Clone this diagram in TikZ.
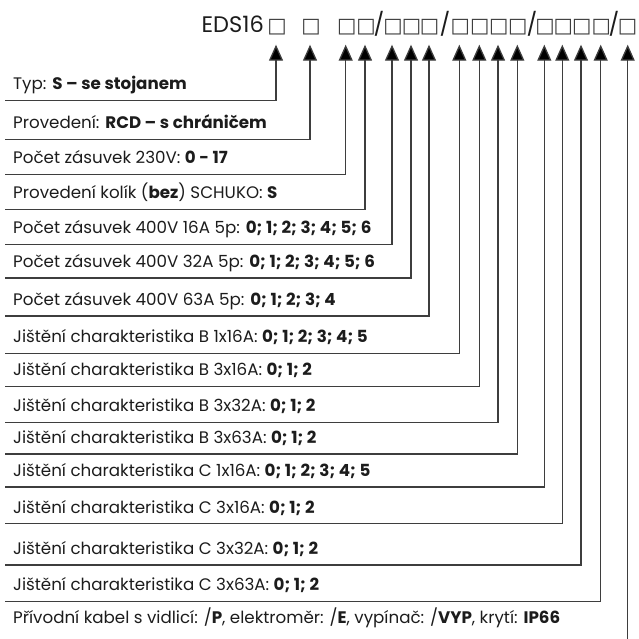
\documentclass[tikz,border=0pt]{standalone}
\usepackage{fontspec}
\setmainfont{Poppins}
\newfontfamily\boxfont{DejaVu Sans}
\usetikzlibrary{arrows.meta}
\usepackage{xcolor}
\definecolor{inkgray}{RGB}{28,28,28}
\definecolor{linegray}{RGB}{62,62,62}
\newcommand{\slotsq}{\makebox[12pt]{□}}

\begin{document}
\begin{tikzpicture}[
    x=1pt, y=-1pt,
    rowbox/.style={anchor=south west, inner xsep=8pt, inner ysep=0pt,
                   text height=11pt, text depth=10.5pt, text=inkgray,
                   font=\fontsize{16.7}{19}\selectfont},
    codetext/.style={anchor=base, inner sep=0pt, text=inkgray,
                     font=\fontsize{22.5}{26}\selectfont},
    slot/.style={anchor=base, inner sep=0pt, text=linegray,
                 font=\boxfont\fontsize{20.5}{24}\selectfont},
    link/.style={draw=linegray, line width=1.3pt,
                 -{Triangle[length=16pt, width=14pt, fill=black]},
                 shorten >=12pt}
]
\useasboundingbox (0,0) rectangle (638,639);

% Code
\node[codetext, anchor=base east] (code) at (264,32.7) {EDS16};
\node[slot] (sq1) at (277,32.7) {\slotsq};
\node[slot] (sq2) at (311,32.7) {\slotsq};
\node[slot] (sq3) at (346.7,32.7) {\slotsq};
\node[slot] (sq4) at (366,32.7) {\slotsq};
\node[codetext] (sl1) at (379,32.7) {/};
\node[slot] (sq5) at (393,32.7) {\slotsq};
\node[slot] (sq6) at (411.5,32.7) {\slotsq};
\node[slot] (sq7) at (429.5,32.7) {\slotsq};
\node[codetext] (sl2) at (445,32.7) {/};
\node[slot] (sq8) at (460.3,32.7) {\slotsq};
\node[slot] (sq9) at (479.7,32.7) {\slotsq};
\node[slot] (sq10) at (498.7,32.7) {\slotsq};
\node[slot] (sq11) at (517.8,32.7) {\slotsq};
\node[codetext] (sl3) at (532,32.7) {/};
\node[slot] (sq12) at (545,32.7) {\slotsq};
\node[slot] (sq13) at (563.3,32.7) {\slotsq};
\node[slot] (sq14) at (581.8,32.7) {\slotsq};
\node[slot] (sq15) at (601.2,32.7) {\slotsq};
\node[codetext] (sl4) at (614,32.7) {/};
\node[slot] (sq16) at (627.5,32.7) {\slotsq};

% Options
\node[rowbox] (typ) at (5,100.7) {Typ: \textbf{S – se stojanem}};
\node[rowbox] (proved) at (5,139.5) {Provedení: \textbf{RCD – s chráničem}};
\node[rowbox] (z230) at (5,174.3) {Počet zásuvek 230V: \textbf{0 - 17}};
\node[rowbox] (kolik) at (5,209.3) {Provedení kolík (\textbf{bez}) SCHUKO: \textbf{S}};
\node[rowbox] (z16) at (5,244.3) {Počet zásuvek 400V 16A 5p: \textbf{0; 1; 2; 3; 4; 5; 6}};
\node[rowbox] (z32) at (5,278) {Počet zásuvek 400V 32A 5p: \textbf{0; 1; 2; 3; 4; 5; 6}};
\node[rowbox] (z63) at (5,316) {Počet zásuvek 400V 63A 5p: \textbf{0; 1; 2; 3; 4}};
\node[rowbox] (b1x16) at (5,353.3) {Jištění charakteristika B 1x16A: \textbf{0; 1; 2; 3; 4; 5}};
\node[rowbox] (b3x16) at (5,386.5) {Jištění charakteristika B 3x16A: \textbf{0; 1; 2}};
\node[rowbox] (b3x32) at (5,422.3) {Jištění charakteristika B 3x32A: \textbf{0; 1; 2}};
\node[rowbox] (b3x63) at (5,454) {Jištění charakteristika B 3x63A: \textbf{0; 1; 2}};
\node[rowbox] (c1x16) at (5,487) {Jištění charakteristika C 1x16A: \textbf{0; 1; 2; 3; 4; 5}};
\node[rowbox] (c3x16) at (5,523.7) {Jištění charakteristika C 3x16A: \textbf{0; 1; 2}};
\node[rowbox] (c3x32) at (5,565) {Jištění charakteristika C 3x32A: \textbf{0; 1; 2}};
\node[rowbox] (c3x63) at (5,601.5) {Jištění charakteristika C 3x63A: \textbf{0; 1; 2}};
\node[rowbox] (kabel) at (5,634) {Přívodní kabel s vidlicí: /\textbf{P}, elektroměr: /\textbf{E}, vypínač: /\textbf{VYP}, krytí: \textbf{IP66}};
\coordinate (kabelend) at (627.7,639);

% Arrows
\draw[link] (typ.south west) -| ([xshift=-1pt]sq1.base);
\draw[link] (proved.south west) -| ([xshift=-1pt]sq2.base);
\draw[link] (z230.south west) -| ([xshift=-1pt]sq3.base);
\draw[link] (kolik.south west) -| ([xshift=-1pt]sq4.base);
\draw[link] (z16.south west) -| ([xshift=-1pt]sq5.base);
\draw[link] (z32.south west) -| ([xshift=-0.5pt]sq6.base);
\draw[link] (z63.south west) -| ([xshift=-0.5pt]sq7.base);
\draw[link] (b1x16.south west) -| ([xshift=-1pt]sq8.base);
\draw[link] (b3x16.south west) -| ([xshift=-0.4pt]sq9.base);
\draw[link] (b3x32.south west) -| ([xshift=-0.7pt]sq10.base);
\draw[link] (b3x63.south west) -| ([xshift=-0.5pt]sq11.base);
\draw[link] (c1x16.south west) -| ([xshift=-0.7pt]sq12.base);
\draw[link] (c3x16.south west) -| ([xshift=-1pt]sq13.base);
\draw[link] (c3x32.south west) -| ([xshift=-0.8pt]sq14.base);
\draw[link] (c3x63.south west) -| ([xshift=-0.5pt]sq15.base);
\draw[link] (kabelend) -- (kabelend |- sq16.base);

\end{tikzpicture}
\end{document}
